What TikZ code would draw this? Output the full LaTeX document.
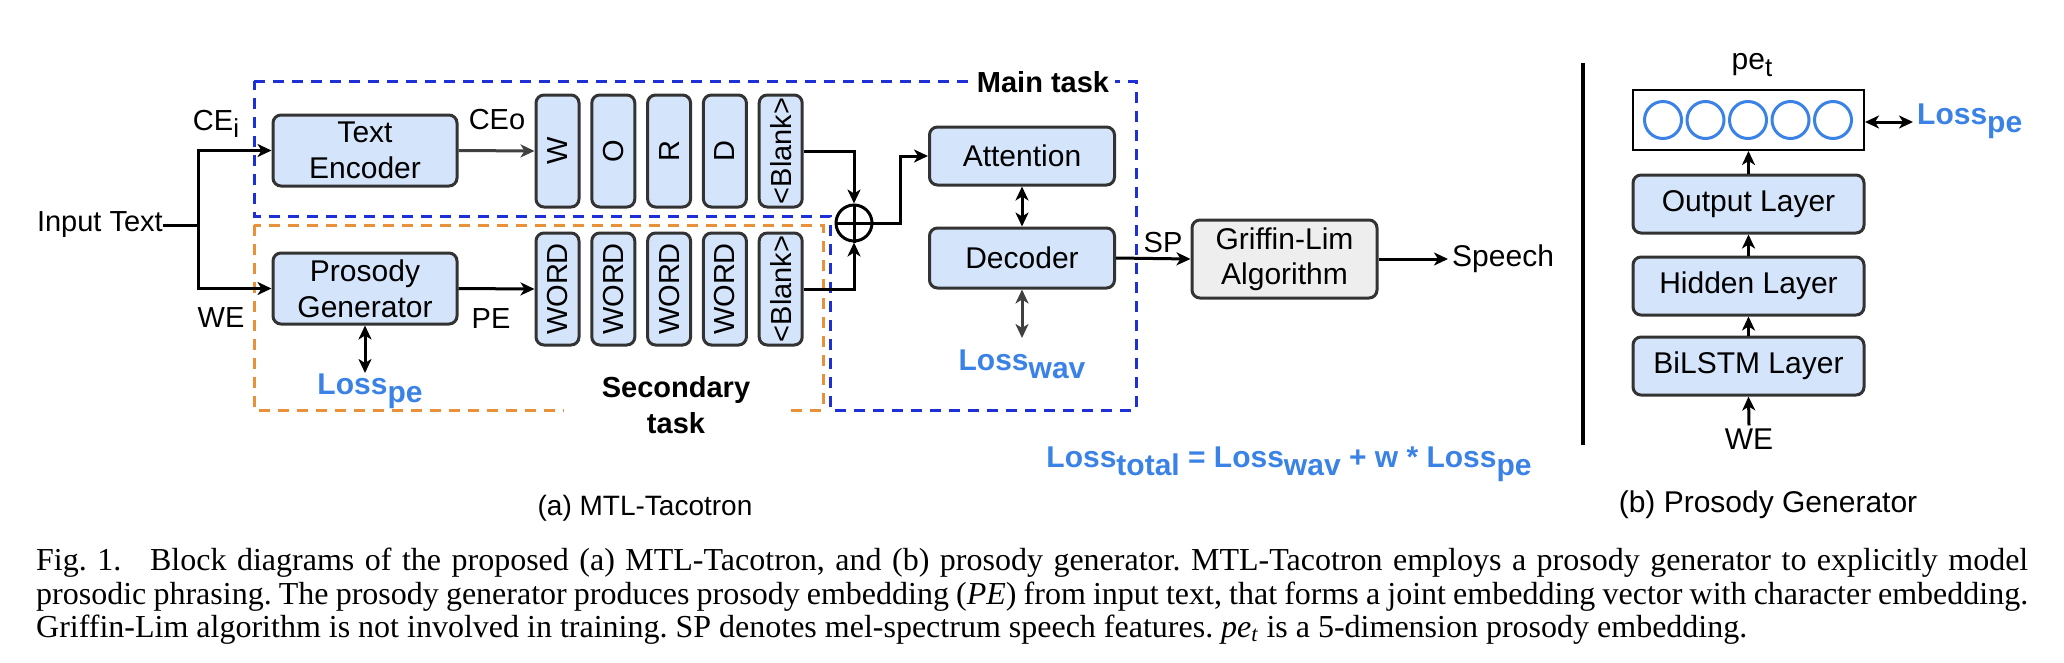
\documentclass[tikz,border=0pt]{standalone}
\usepackage{graphicx}
\usepackage{fontspec}
\setmainfont{Liberation Serif}
\newfontfamily\arial{Liberation Sans}
\usetikzlibrary{arrows.meta,calc}
\definecolor{boxfill}{RGB}{212,228,250}
\definecolor{boxline}{RGB}{51,51,51}
\definecolor{dblue}{RGB}{28,48,214}
\definecolor{dorange}{RGB}{232,145,58}
\definecolor{lblue}{RGB}{59,130,230}
\definecolor{gfill}{RGB}{238,238,238}
\definecolor{garrow}{RGB}{64,64,64}
\newcommand\lsub[1]{\raisebox{-0.27em}{#1}}
\newcommand\tsub[1]{\raisebox{-0.25em}{\fontsize{26}{26}\selectfont #1}}
\begin{document}
\begin{tikzpicture}[x=1pt,y=-1pt,
  font=\arial\fontsize{29}{36}\selectfont,
  blk/.style={draw=boxline, fill=boxfill, line width=3pt, rounded corners=8pt, inner sep=0pt, align=center},
  lett/.style={blk, minimum width=43pt, minimum height=112pt},
  arr/.style={line width=3pt, -{Stealth[length=14pt,width=13pt,inset=4pt]}},
  darr/.style={line width=3pt, {Stealth[length=14pt,width=13pt,inset=4pt]}-{Stealth[length=14pt,width=13pt,inset=4pt]}},
  lossl/.style={text=lblue, font=\arial\bfseries\fontsize{30}{36}\selectfont, inner sep=0pt},
  lbl/.style={inner sep=0pt}
]
\fill[white] (0,0) rectangle (2064,662);
\useasboundingbox (0,0) rectangle (2064,662);

% dashed task frames
\draw[dblue, line width=3pt, dash pattern=on 11pt off 8pt]
  (254,81) -- (1136,81) -- (1136,410) -- (830,410) -- (830,216) -- (254,216) -- cycle;
\draw[dorange, line width=3pt, dash pattern=on 11pt off 8pt]
  (254,225) rectangle (823,410);
\node[fill=white, inner sep=6pt, font=\arial\bfseries\fontsize{29}{36}\selectfont] (main) at (1043,82) {Main task};
\node[fill=white, minimum width=225pt, inner sep=2pt, align=center, font=\arial\bfseries\fontsize{29}{36}\selectfont] (sec) at (676,405) {Secondary\\task};

% left input
\node[lbl, anchor=east] (in) at (163,225) {Input Text};
\coordinate (j) at (198,225);
\node[blk, minimum width=184pt, minimum height=71pt, font=\arial\fontsize{30}{36}\selectfont] (te) at (365,150.5) {Text\\Encoder};
\node[blk, minimum width=184pt, minimum height=71pt, font=\arial\fontsize{30}{36}\selectfont] (pg) at (365,288.5) {Prosody\\Generator};
\draw[line width=3pt] (in.east) -- (j);
\draw[arr] (j) |- (te.west);
\draw[arr] (j) |- (pg.west);
\node[lbl] (cei) at (216,124) {CE\tsub{i}};
\node[lbl] (we) at (221,318) {WE};

% letter boxes
\node[lett] (t1) at (557.5,151) {\rotatebox{90}{W}};
\node[lett] (t2) at (613.3,151) {\rotatebox{90}{O}};
\node[lett] (t3) at (669.1,151) {\rotatebox{90}{R}};
\node[lett] (t4) at (724.9,151) {\rotatebox{90}{D}};
\node[lett] (t5) at (780.7,151) {\rotatebox{90}{<Blank>}};
\node[lett] (w1) at (557.5,289) {\rotatebox{90}{WORD}};
\node[lett] (w2) at (613.3,289) {\rotatebox{90}{WORD}};
\node[lett] (w3) at (669.1,289) {\rotatebox{90}{WORD}};
\node[lett] (w4) at (724.9,289) {\rotatebox{90}{WORD}};
\node[lett] (w5) at (780.7,289) {\rotatebox{90}{<Blank>}};
\draw[arr, garrow] (te.east) -- (t1.west);
\draw[arr] (pg.east) -- (w1.west);
\node[lbl] (ceo) at (497,120) {CEo};
\node[lbl] (pe) at (491,319) {PE};

% Prosody generator loss
\coordinate (lpe) at (365,373);
\draw[darr] (pg.south) -- (lpe);
\node[lossl] (losspe) at (370,391) {Loss\lsub{pe}};

% oplus
\node[circle, draw, line width=3pt, minimum size=36pt, inner sep=0pt] (op) at (854,223) {};
\draw[line width=3pt] (op.north) -- (op.south) (op.west) -- (op.east);
\draw[arr] (t5.east) -| (op.north);
\draw[arr] (w5.east) -| (op.south);
\coordinate (k) at (900,223);

% attention / decoder
\node[blk, minimum width=185pt, minimum height=58pt, font=\arial\fontsize{30}{36}\selectfont] (att) at (1022,156) {Attention};
\node[blk, minimum width=185pt, minimum height=60pt, font=\arial\fontsize{30}{36}\selectfont] (dec) at (1022,258) {Decoder};
\draw[arr] (op.east) -- (k) |- (att.west);
\draw[darr] (att.south) -- (dec.north);
\coordinate (lw) at (1022,338);
\draw[darr, garrow] (dec.south) -- (lw);
\node[lossl] (losswav) at (1022,364) {Loss\lsub{wav}};

% Griffin-Lim
\node[blk, fill=gfill, minimum width=185pt, minimum height=78pt, font=\arial\fontsize{30}{35}\selectfont] (gl) at (1284.5,259) {Griffin-Lim\\Algorithm};
\draw[arr] (dec.east) -- (gl.west);
\node[lbl] (sp) at (1163,243) {SP};
\node[lbl, anchor=west, inner sep=4pt, font=\arial\fontsize{30}{36}\selectfont] (speech) at (1448,259) {Speech};
\draw[arr] (gl.east) -- (speech.west);

% total loss
\node[lossl, anchor=base] (ltot) at (1289,467) {Loss\lsub{total} = Loss\lsub{wav} + w * Loss\lsub{pe}};
\node[lbl, font=\arial\fontsize{28}{34}\selectfont] (capa) at (645,508) {(a) MTL-Tacotron};

% separator
\draw[line width=4pt] (1583,63) -- (1583,445);

% right panel
\node[draw, line width=2pt, fill=white, minimum width=231pt, minimum height=60pt, inner sep=0pt] (pv) at (1748.5,120) {};
\foreach \cx in {1663,1705.5,1748,1790.5,1833}
  \draw[lblue, line width=3pt] (\cx,120) circle (18.5pt);
\node[lbl, font=\arial\fontsize{30}{36}\selectfont] (pet) at (1752,65) {pe\tsub{t}};
\coordinate (pr) at (1913,122);
\draw[darr] (pv.east |- pr) -- (pr);
\node[lossl, anchor=west] (losspe2) at (1917,121) {Loss\lsub{pe}};
\node[blk, minimum width=231pt, minimum height=58pt, font=\arial\fontsize{30}{36}\selectfont] (ol) at (1748.5,204) {Output Layer};
\node[blk, minimum width=231pt, minimum height=58pt, font=\arial\fontsize{30}{36}\selectfont] (hl) at (1748.5,286) {Hidden Layer};
\node[blk, minimum width=231pt, minimum height=58pt, font=\arial\fontsize{30}{36}\selectfont] (bl) at (1748.5,366) {BiLSTM Layer};
\node[lbl, font=\arial\fontsize{30}{36}\selectfont] (we2) at (1749,439) {WE};
\draw[arr] (ol.north) -- (pv.south);
\draw[arr] (hl.north) -- (ol.south);
\draw[arr] (bl.north) -- (hl.south);
\draw[arr] ($(we2.north)+(0,-3)$) -- (bl.south);
\node[lbl, font=\arial\fontsize{30}{36}\selectfont] (capb) at (1768,505) {(b) Prosody Generator};

% caption
\node[anchor=north west, inner sep=0pt, text width=1992pt, align=justify,
  font=\rmfamily\fontsize{32}{33.5}\selectfont] (cap) at (36,548)
{\frenchspacing Fig.~1.\hspace{0.9em}Block diagrams of the proposed (a) MTL-Tacotron, and (b) prosody generator. MTL-Tacotron employs a prosody generator to explicitly model\linebreak
prosodic phrasing. The prosody generator produces prosody embedding (\textit{PE}) from input text, that forms a joint embedding vector with character embedding.\linebreak
Griffin-Lim algorithm is not involved in training. SP denotes mel-spectrum speech features. \textit{pe}\textsubscript{\textit{t}} is a 5-dimension prosody embedding.\par};
\end{tikzpicture}
\end{document}
